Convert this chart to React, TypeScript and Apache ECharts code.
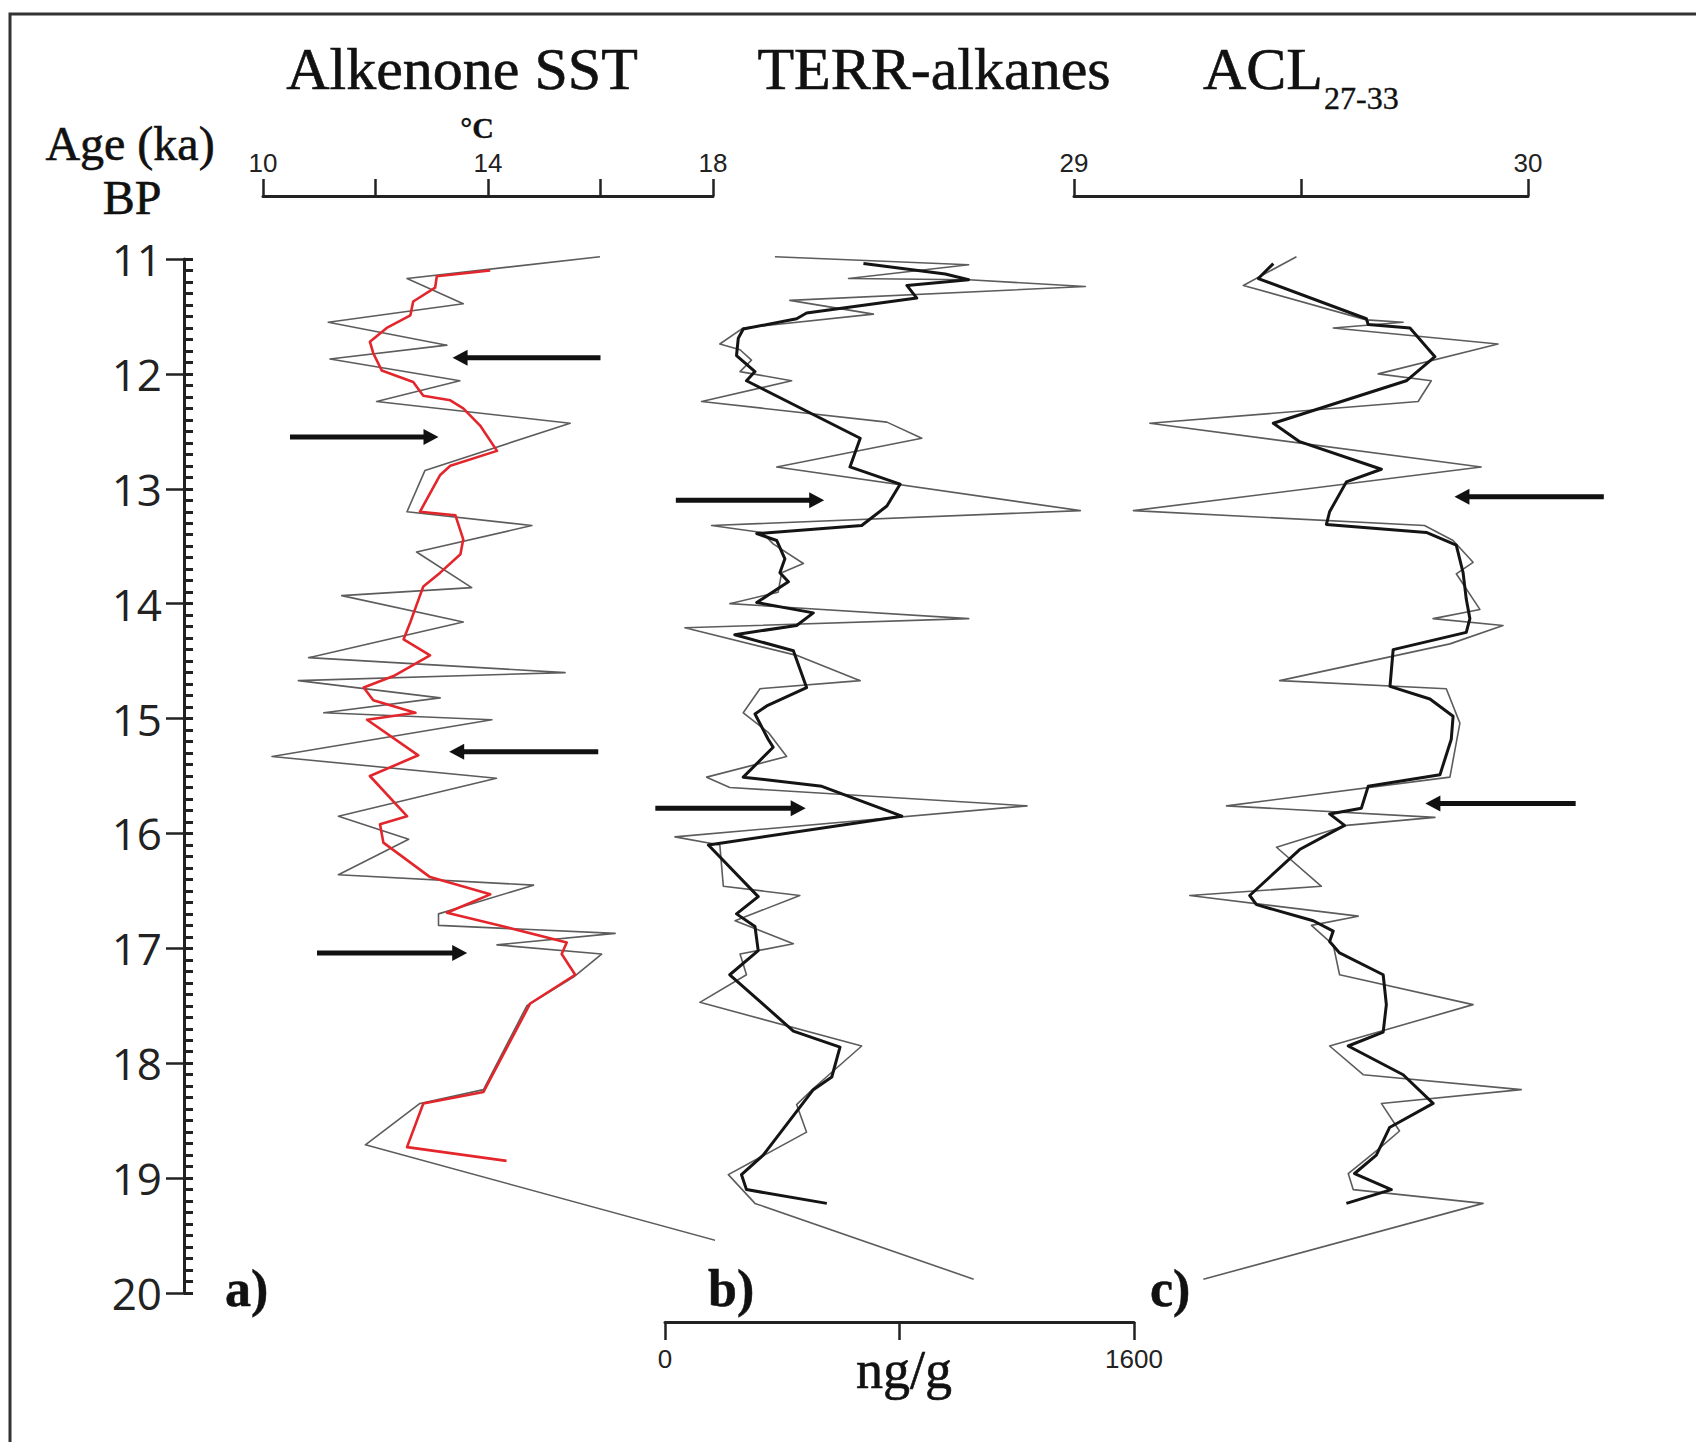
import React, { useEffect, useRef } from "react";
import * as echarts from "echarts";

const W = 1696;
const H = 1442;

// ---------- Panel a: Alkenone SST (°C) ----------
const sstRawAge = [10.98, 11.17, 11.39, 11.55, 11.75, 11.87, 12.06, 12.24, 12.43, 12.84, 13.2, 13.32, 13.55, 13.86, 13.93, 14.16, 14.47, 14.6, 14.67, 14.82, 14.95, 15.01, 15.33, 15.52, 15.85, 16.05, 16.36, 16.45, 16.7, 16.8, 16.87, 16.97, 17.05, 17.25, 17.5, 18.23, 18.35, 18.71, 19.6];
const sstRaw = [15.99, 12.56, 13.56, 11.16, 13.27, 11.19, 13.5, 12.02, 15.46, 12.88, 12.56, 14.78, 12.73, 13.71, 11.4, 13.56, 10.81, 15.37, 10.63, 13.15, 11.08, 14.07, 10.16, 14.15, 11.34, 12.59, 11.34, 14.81, 13.12, 13.12, 16.26, 14.16, 16.02, 15.52, 14.69, 13.92, 12.79, 11.82, 18.48];
const sstSmoothAge = [11.1, 11.15, 11.25, 11.37, 11.49, 11.6, 11.72, 11.82, 11.97, 12.07, 12.19, 12.23, 12.3, 12.45, 12.67, 12.8, 12.88, 13.2, 13.23, 13.44, 13.57, 13.73, 13.85, 13.93, 14.16, 14.31, 14.45, 14.63, 14.73, 14.84, 14.95, 15.01, 15.32, 15.5, 15.85, 15.92, 16.08, 16.38, 16.53, 16.69, 16.81, 16.95, 17.05, 17.23, 17.48, 18.25, 18.35, 18.73, 18.85];
const sstSmooth = [14.04, 13.09, 13.06, 12.67, 12.62, 12.2, 11.9, 11.96, 12.11, 12.67, 12.85, 13.33, 13.56, 13.86, 14.16, 13.33, 13.15, 12.79, 13.42, 13.56, 13.51, 13.15, 12.85, 12.79, 12.62, 12.5, 12.97, 12.32, 11.79, 11.96, 12.71, 11.85, 12.76, 11.9, 12.56, 12.08, 12.14, 12.97, 14.04, 13.27, 14.28, 15.4, 15.31, 15.55, 14.75, 13.92, 12.85, 12.56, 14.33];

// ---------- Panel b: TERR-alkanes (ng/g) ----------
const terrRawAge = [10.98, 11.05, 11.17, 11.18, 11.24, 11.36, 11.48, 11.6, 11.74, 11.79, 11.88, 11.98, 12.06, 12.24, 12.42, 12.56, 12.81, 13.19, 13.32, 13.38, 13.48, 13.65, 13.73, 13.9, 14.0, 14.13, 14.21, 14.45, 14.67, 14.74, 14.95, 15.12, 15.33, 15.51, 15.6, 15.76, 16.03, 16.1, 16.46, 16.54, 16.76, 16.96, 17.05, 17.23, 17.47, 17.85, 18.22, 18.36, 18.6, 18.97, 19.22, 19.88];
const terrRaw = [375, 1036, 626, 1036, 1434, 426, 711, 267, 187, 256, 295, 256, 432, 125, 757, 876, 381, 1417, 159, 330, 369, 472, 398, 386, 221, 1036, 68, 449, 666, 324, 267, 352, 415, 142, 221, 1235, 34, 187, 199, 460, 239, 438, 256, 278, 119, 671, 506, 449, 483, 216, 307, 1053];
const terrSmoothAge = [11.04, 11.13, 11.18, 11.23, 11.34, 11.47, 11.52, 11.61, 11.69, 11.84, 11.98, 12.06, 12.56, 12.81, 12.96, 13.15, 13.32, 13.39, 13.45, 13.61, 13.73, 13.81, 13.99, 14.08, 14.19, 14.27, 14.41, 14.73, 14.89, 14.96, 15.18, 15.25, 15.51, 15.59, 15.85, 16.1, 16.55, 16.7, 16.81, 17.02, 17.23, 17.72, 17.86, 18.12, 18.23, 18.8, 18.97, 19.1, 19.22];
const terrSmooth = [677, 956, 1036, 825, 859, 483, 449, 267, 250, 244, 307, 278, 666, 631, 802, 757, 671, 313, 381, 409, 392, 421, 313, 506, 449, 238, 438, 483, 347, 307, 352, 369, 267, 535, 808, 148, 318, 244, 307, 318, 221, 438, 597, 569, 506, 335, 261, 278, 552];

// ---------- Panel c: ACL 27-33 ----------
const aclRawAge = [10.98, 11.23, 11.53, 11.55, 11.6, 11.74, 12.0, 12.06, 12.24, 12.43, 12.81, 13.19, 13.32, 13.45, 13.64, 13.74, 14.05, 14.13, 14.19, 14.35, 14.67, 14.74, 15.04, 15.51, 15.76, 15.86, 15.93, 16.12, 16.46, 16.54, 16.72, 16.8, 16.97, 17.23, 17.49, 17.85, 18.1, 18.23, 18.35, 18.59, 18.75, 18.96, 19.1, 19.22, 19.88];
const aclRaw = [29.49, 29.373, 29.644, 29.725, 29.571, 29.934, 29.67, 29.787, 29.758, 29.167, 29.897, 29.131, 29.772, 29.835, 29.879, 29.842, 29.894, 29.791, 29.945, 29.828, 29.453, 29.82, 29.85, 29.828, 29.336, 29.795, 29.6, 29.446, 29.545, 29.255, 29.626, 29.523, 29.571, 29.585, 29.879, 29.563, 29.637, 29.985, 29.677, 29.717, 29.67, 29.604, 29.615, 29.901, 29.285];
const aclSmoothAge = [11.04, 11.17, 11.52, 11.57, 11.6, 11.85, 12.06, 12.43, 12.59, 12.83, 12.94, 13.2, 13.31, 13.38, 13.49, 13.73, 13.96, 14.13, 14.25, 14.4, 14.72, 14.83, 14.98, 15.18, 15.49, 15.59, 15.78, 15.83, 15.93, 16.14, 16.54, 16.62, 16.76, 16.85, 16.94, 17.04, 17.23, 17.49, 17.73, 17.85, 18.1, 18.35, 18.56, 18.8, 18.96, 19.1, 19.22];
const aclSmooth = [29.439, 29.406, 29.644, 29.648, 29.74, 29.795, 29.732, 29.439, 29.497, 29.677, 29.6, 29.563, 29.556, 29.776, 29.842, 29.857, 29.864, 29.872, 29.864, 29.703, 29.696, 29.784, 29.835, 29.831, 29.806, 29.648, 29.633, 29.563, 29.596, 29.497, 29.387, 29.402, 29.527, 29.571, 29.563, 29.585, 29.681, 29.688, 29.681, 29.604, 29.725, 29.791, 29.695, 29.666, 29.618, 29.699, 29.6];

// ---------- Arrows: [fromValue, toValue, age] ----------
const arrowsA = [[16.0, 13.37, 11.86], [10.48, 13.12, 12.55], [15.96, 13.31, 15.29], [10.96, 13.63, 17.04]];
const arrowsB = [[37, 543, 13.1], [-33, 480, 15.78]];
const arrowsC = [[30.167, 29.838, 13.07], [30.105, 29.774, 15.74]];

// ---------- Axis tick labels ----------
const sstTickLabels = [10, 14, 18];
const terrTickLabels = [0, 1600];
const aclTickLabels = [29, 30];

const pairs = (xs: number[], ys: number[]) => xs.map((x, i) => [x, ys[i]]);

const INK = "#222";
const SERIF = "'Liberation Serif', 'Times New Roman', serif";
const NARROW = "'Liberation Sans Narrow', 'Liberation Sans', sans-serif";

function arrowSeries(xi: number, yi: number, rows: number[][]) {
  return {
    type: "custom",
    xAxisIndex: xi,
    yAxisIndex: yi,
    data: rows,
    clip: false,
    z: 10,
    silent: true,
    encode: { x: [0, 1], y: 2 },
    renderItem: (_params: any, api: any) => {
      const y = api.value(2);
      const p1 = api.coord([api.value(0), y]);
      const p2 = api.coord([api.value(1), y]);
      const dir = p2[0] > p1[0] ? 1 : -1;
      const head = 15;
      const half = 8;
      const base = p2[0] - dir * head;
      return {
        type: "group",
        children: [
          {
            type: "line",
            shape: { x1: p1[0], y1: p1[1], x2: base + dir * 2, y2: p1[1] },
            style: { stroke: "#111", lineWidth: 5 },
          },
          {
            type: "polygon",
            shape: { points: [[p2[0], p2[1]], [base, p2[1] - half], [base, p2[1] + half]] },
            style: { fill: "#111" },
          },
        ],
      };
    },
  };
}

function lineSeries(xi: number, yi: number, data: number[][], color: string, width: number, z: number) {
  return {
    type: "line",
    xAxisIndex: xi,
    yAxisIndex: yi,
    data,
    symbol: "none",
    clip: false,
    z,
    silent: true,
    lineStyle: { color, width, join: "round" },
  };
}

function labelOnly(list: number[]) {
  return (v: number) => (list.some((t) => Math.abs(t - v) < 1e-6) ? String(v) : "");
}

function serifText(text: string, x: number, y: number, size: number, align: string, bold = false, heavy = 0.6) {
  return {
    type: "text",
    x,
    y,
    silent: true,
    style: {
      text,
      font: `${bold ? "bold " : ""}${size}px ${SERIF}`,
      fill: "#111",
      stroke: "#111",
      lineWidth: heavy,
      align,
      verticalAlign: "middle",
    },
  };
}

export default function App() {
  const ref = useRef<HTMLDivElement>(null);

  useEffect(() => {
    document.body.style.margin = "0";
    const chart = echarts.init(ref.current as HTMLDivElement, null, { renderer: "svg", width: W, height: H });

    const top = 259;
    const height = 1034;

    const yBase = {
      type: "value",
      inverse: true,
      min: 11,
      max: 20,
      interval: 1,
      splitLine: { show: false },
    };

    const option: any = {
      animation: false,
      backgroundColor: "#ffffff",
      grid: [
        { left: 263, width: 450, top, height, outerBoundsMode: "none" },
        { left: 665, width: 469, top, height, outerBoundsMode: "none" },
        { left: 1074, width: 454, top, height, outerBoundsMode: "none" },
      ],
      xAxis: [
        {
          gridIndex: 0,
          type: "value",
          position: "top",
          min: 10,
          max: 18,
          interval: 2,
          offset: 63,
          splitLine: { show: false },
          axisLine: { show: true, lineStyle: { color: INK, width: 3 } },
          axisTick: { show: true, length: 17, lineStyle: { color: INK, width: 2.5 } },
          axisLabel: { formatter: labelOnly(sstTickLabels), fontFamily: NARROW, fontSize: 26, color: INK, margin: 20 },
        },
        {
          gridIndex: 1,
          type: "value",
          position: "bottom",
          min: 0,
          max: 1600,
          interval: 800,
          offset: 29,
          splitLine: { show: false },
          axisLine: { show: true, lineStyle: { color: INK, width: 3 } },
          axisTick: { show: true, length: 18, lineStyle: { color: INK, width: 2.5 } },
          axisLabel: { formatter: labelOnly(terrTickLabels), fontFamily: NARROW, fontSize: 26, color: INK, margin: 24 },
        },
        {
          gridIndex: 2,
          type: "value",
          position: "top",
          min: 29,
          max: 30,
          interval: 0.5,
          offset: 63,
          splitLine: { show: false },
          axisLine: { show: true, lineStyle: { color: INK, width: 3 } },
          axisTick: { show: true, length: 17, lineStyle: { color: INK, width: 2.5 } },
          axisLabel: { formatter: labelOnly(aclTickLabels), fontFamily: NARROW, fontSize: 26, color: INK, margin: 20 },
        },
      ],
      yAxis: [
        {
          ...yBase,
          gridIndex: 0,
          position: "left",
          offset: 79,
          axisLine: { show: true, lineStyle: { color: INK, width: 3 } },
          axisTick: { show: true, length: 18, lineStyle: { color: INK, width: 2.5 } },
          axisLabel: { show: true, fontFamily: "'Open Sans', sans-serif", fontSize: 44, color: INK, margin: 22 },
        },
        {
          ...yBase,
          gridIndex: 0,
          position: "left",
          offset: 79,
          axisLine: { show: false },
          axisTick: { show: true, inside: true, length: 9, lineStyle: { color: INK, width: 3 } },
          minorTick: { show: true, splitNumber: 10, length: 9, lineStyle: { color: INK, width: 3 } },
          axisLabel: { show: false },
        },
        { ...yBase, gridIndex: 1, show: false },
        { ...yBase, gridIndex: 2, show: false },
      ],
      series: [
        lineSeries(0, 0, pairs(sstRaw, sstRawAge), "#5c5c5c", 1.6, 2),
        lineSeries(0, 0, pairs(sstSmooth, sstSmoothAge), "#e3262b", 2.6, 3),
        lineSeries(1, 2, pairs(terrRaw, terrRawAge), "#5c5c5c", 1.6, 2),
        lineSeries(1, 2, pairs(terrSmooth, terrSmoothAge), "#141414", 3, 3),
        lineSeries(2, 3, pairs(aclRaw, aclRawAge), "#5c5c5c", 1.6, 2),
        lineSeries(2, 3, pairs(aclSmooth, aclSmoothAge), "#141414", 3, 3),
        arrowSeries(0, 0, arrowsA),
        arrowSeries(1, 2, arrowsB),
        arrowSeries(2, 3, arrowsC),
      ],
      graphic: [
        {
          type: "rect",
          shape: { x: 10, y: 14, width: 1720, height: 1500 },
          style: { fill: "none", stroke: "#333", lineWidth: 3 },
          silent: true,
        },
        serifText("Alkenone SST", 462, 69, 60, "center"),
        serifText("TERR-alkanes", 934, 69, 60, "center"),
        serifText("ACL", 1203, 69, 60, "left"),
        serifText("27-33", 1324, 98, 32, "left", false, 0.4),
        serifText("Age (ka)", 130, 143, 48, "center"),
        serifText("BP", 132, 197, 48, "center"),
        serifText("°C", 477, 127, 30, "center", true, 0.3),
        serifText("ng/g", 904, 1370, 54, "center"),
        serifText("a)", 225, 1288, 52, "left", true, 0.5),
        serifText("b)", 708, 1288, 52, "left", true, 0.5),
        serifText("c)", 1150, 1288, 52, "left", true, 0.5),
      ],
    };

    chart.setOption(option);
    return () => {
      chart.dispose();
    };
  }, []);

  return <div ref={ref} style={{ width: W, height: H, position: "absolute", left: 0, top: 0 }} />;
}
